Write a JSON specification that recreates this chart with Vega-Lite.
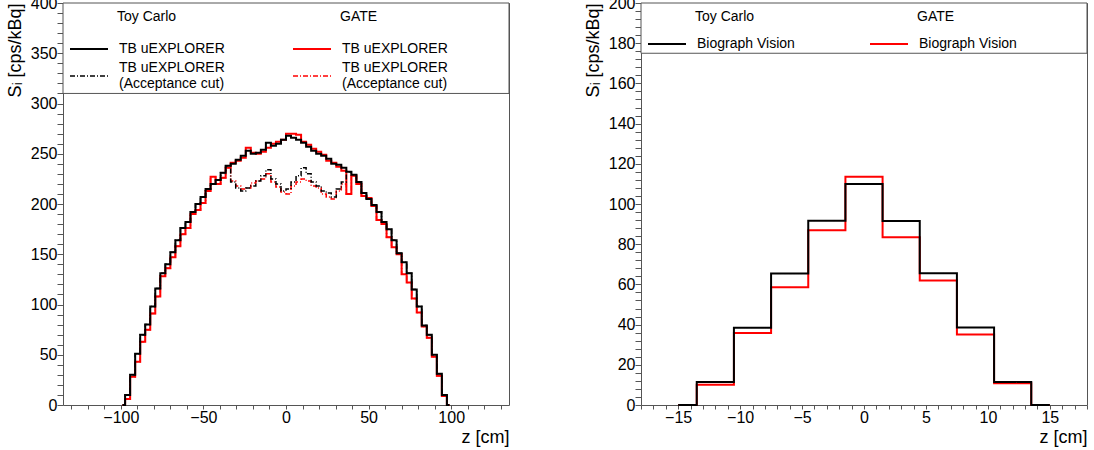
{
  "$schema": "https://vega.github.io/schema/vega-lite/v6.json",
  "padding": {"left": 5, "top": -6, "right": 0, "bottom": 0},
  "spacing": 73,
  "config": {
    "font": "Liberation Sans",
    "view": {"stroke": "#555555", "strokeWidth": 1},
    "axis": {
      "labelFont": "Liberation Sans", "labelFontSize": 16, "labelColor": "black",
      "titleFont": "Liberation Sans", "titleFontSize": 18, "titleFontWeight": "normal", "titleColor": "black",
      "domain": false, "grid": false, "tickColor": "#555555", "ticks": true,
      "labelOverlap": false, "labelFlush": false
    },
    "legend": {
      "orient": "none", "padding": 0,
      "titleFont": "Liberation Sans", "titleFontSize": 14, "titleFontWeight": "normal", "titleColor": "black",
      "labelFont": "Liberation Sans", "labelFontSize": 14, "labelColor": "black",
      "symbolType": "stroke", "symbolSize": 1444, "symbolStrokeWidth": 2, "labelOffset": 10
    }
  },
  "datasets": {
    "uexplorer": [
      {"z": -98.92, "toy": 0, "toy_cut": 0, "gate": 0, "gate_cut": 0},
      {"z": -95.88, "toy": 10, "toy_cut": 10, "gate": 6, "gate_cut": 6},
      {"z": -92.83, "toy": 30, "toy_cut": 30, "gate": 28, "gate_cut": 28},
      {"z": -89.79, "toy": 51, "toy_cut": 51, "gate": 43, "gate_cut": 43},
      {"z": -86.75, "toy": 70, "toy_cut": 70, "gate": 63, "gate_cut": 63},
      {"z": -83.70, "toy": 80, "toy_cut": 80, "gate": 75, "gate_cut": 75},
      {"z": -80.66, "toy": 98, "toy_cut": 98, "gate": 91, "gate_cut": 91},
      {"z": -77.62, "toy": 116, "toy_cut": 116, "gate": 108, "gate_cut": 108},
      {"z": -74.57, "toy": 131, "toy_cut": 131, "gate": 128, "gate_cut": 128},
      {"z": -71.53, "toy": 140, "toy_cut": 140, "gate": 136, "gate_cut": 136},
      {"z": -68.48, "toy": 152, "toy_cut": 152, "gate": 147, "gate_cut": 147},
      {"z": -65.44, "toy": 164, "toy_cut": 164, "gate": 158, "gate_cut": 158},
      {"z": -62.40, "toy": 176, "toy_cut": 176, "gate": 170, "gate_cut": 170},
      {"z": -59.35, "toy": 182, "toy_cut": 182, "gate": 176, "gate_cut": 176},
      {"z": -56.31, "toy": 192, "toy_cut": 192, "gate": 190, "gate_cut": 190},
      {"z": -53.27, "toy": 200, "toy_cut": 200, "gate": 194, "gate_cut": 194},
      {"z": -50.22, "toy": 207, "toy_cut": 207, "gate": 201, "gate_cut": 201},
      {"z": -47.18, "toy": 215, "toy_cut": 215, "gate": 213, "gate_cut": 213},
      {"z": -44.14, "toy": 220, "toy_cut": 220, "gate": 227, "gate_cut": 227},
      {"z": -41.09, "toy": 224, "toy_cut": 224, "gate": 220, "gate_cut": 220},
      {"z": -38.05, "toy": 231, "toy_cut": 231, "gate": 226, "gate_cut": 226},
      {"z": -35.01, "toy": 238, "toy_cut": 238, "gate": 236, "gate_cut": 236},
      {"z": -31.96, "toy": 240, "toy_cut": 222, "gate": 241, "gate_cut": 223},
      {"z": -28.92, "toy": 244, "toy_cut": 216, "gate": 243, "gate_cut": 218},
      {"z": -25.88, "toy": 248, "toy_cut": 213, "gate": 246, "gate_cut": 215},
      {"z": -22.83, "toy": 253, "toy_cut": 216, "gate": 256, "gate_cut": 216},
      {"z": -19.79, "toy": 250, "toy_cut": 218, "gate": 251, "gate_cut": 221},
      {"z": -16.74, "toy": 251, "toy_cut": 223, "gate": 250, "gate_cut": 223},
      {"z": -13.70, "toy": 254, "toy_cut": 228, "gate": 252, "gate_cut": 225},
      {"z": -10.66, "toy": 261, "toy_cut": 234, "gate": 256, "gate_cut": 230},
      {"z": -7.61, "toy": 258, "toy_cut": 225, "gate": 260, "gate_cut": 222},
      {"z": -4.57, "toy": 260, "toy_cut": 220, "gate": 262, "gate_cut": 217},
      {"z": -1.52, "toy": 264, "toy_cut": 213, "gate": 264, "gate_cut": 212},
      {"z": 1.52, "toy": 268, "toy_cut": 215, "gate": 270, "gate_cut": 210},
      {"z": 4.57, "toy": 266, "toy_cut": 222, "gate": 270, "gate_cut": 218},
      {"z": 7.61, "toy": 264, "toy_cut": 228, "gate": 269, "gate_cut": 222},
      {"z": 10.66, "toy": 261, "toy_cut": 236, "gate": 262, "gate_cut": 225},
      {"z": 13.70, "toy": 257, "toy_cut": 230, "gate": 259, "gate_cut": 223},
      {"z": 16.74, "toy": 253, "toy_cut": 222, "gate": 255, "gate_cut": 218},
      {"z": 19.79, "toy": 250, "toy_cut": 218, "gate": 252, "gate_cut": 216},
      {"z": 22.83, "toy": 248, "toy_cut": 213, "gate": 249, "gate_cut": 210},
      {"z": 25.88, "toy": 245, "toy_cut": 211, "gate": 243, "gate_cut": 207},
      {"z": 28.92, "toy": 240, "toy_cut": 207, "gate": 241, "gate_cut": 205},
      {"z": 31.96, "toy": 239, "toy_cut": 215, "gate": 237, "gate_cut": 213},
      {"z": 35.01, "toy": 236, "toy_cut": 222, "gate": 233, "gate_cut": 220},
      {"z": 38.05, "toy": 232, "toy_cut": 232, "gate": 210, "gate_cut": 210},
      {"z": 41.09, "toy": 229, "toy_cut": 229, "gate": 228, "gate_cut": 228},
      {"z": 44.14, "toy": 222, "toy_cut": 222, "gate": 220, "gate_cut": 220},
      {"z": 47.18, "toy": 211, "toy_cut": 211, "gate": 208, "gate_cut": 208},
      {"z": 50.22, "toy": 205, "toy_cut": 205, "gate": 206, "gate_cut": 206},
      {"z": 53.27, "toy": 199, "toy_cut": 199, "gate": 198, "gate_cut": 198},
      {"z": 56.31, "toy": 192, "toy_cut": 192, "gate": 184, "gate_cut": 184},
      {"z": 59.35, "toy": 182, "toy_cut": 182, "gate": 180, "gate_cut": 180},
      {"z": 62.40, "toy": 175, "toy_cut": 175, "gate": 167, "gate_cut": 167},
      {"z": 65.44, "toy": 164, "toy_cut": 164, "gate": 157, "gate_cut": 157},
      {"z": 68.48, "toy": 151, "toy_cut": 151, "gate": 150, "gate_cut": 150},
      {"z": 71.53, "toy": 142, "toy_cut": 142, "gate": 130, "gate_cut": 130},
      {"z": 74.57, "toy": 131, "toy_cut": 131, "gate": 122, "gate_cut": 122},
      {"z": 77.62, "toy": 115, "toy_cut": 115, "gate": 106, "gate_cut": 106},
      {"z": 80.66, "toy": 98, "toy_cut": 98, "gate": 92, "gate_cut": 92},
      {"z": 83.70, "toy": 79, "toy_cut": 79, "gate": 78, "gate_cut": 78},
      {"z": 86.75, "toy": 70, "toy_cut": 70, "gate": 67, "gate_cut": 67},
      {"z": 89.79, "toy": 50, "toy_cut": 50, "gate": 48, "gate_cut": 48},
      {"z": 92.83, "toy": 31, "toy_cut": 31, "gate": 29, "gate_cut": 29},
      {"z": 95.88, "toy": 10, "toy_cut": 10, "gate": 9, "gate_cut": 9},
      {"z": 98.92, "toy": 0, "toy_cut": 0, "gate": 0, "gate_cut": 0}
    ],
    "vision": [
      {"z": -15, "toy": 0, "gate": 0},
      {"z": -12, "toy": 11.4, "gate": 10.1},
      {"z": -9, "toy": 38.4, "gate": 35.8},
      {"z": -6, "toy": 65.4, "gate": 58.6},
      {"z": -3, "toy": 91.7, "gate": 86.9},
      {"z": 0, "toy": 109.9, "gate": 113.6},
      {"z": 3, "toy": 91.6, "gate": 83.4},
      {"z": 6, "toy": 65.6, "gate": 61.9},
      {"z": 9, "toy": 38.6, "gate": 35.1},
      {"z": 12, "toy": 11.4, "gate": 10.8},
      {"z": 15, "toy": 0, "gate": 0}
    ]
  },
  "hconcat": [
    {
      "width": 446,
      "height": 402,
      "layer": [
        {
          "encoding": {
            "x": {
              "field": "z", "type": "quantitative",
              "scale": {"domain": [-135, 135], "nice": false, "zero": false},
              "axis": {
                "values": [-130, -120, -110, -100, -90, -80, -70, -60, -50, -40, -30, -20, -10, 0, 10, 20, 30, 40, 50, 60, 70, 80, 90, 100, 110, 120, 130],
                "labelExpr": "datum.value % 50 === 0 ? datum.label : ''",
                "title": "z [cm]", "titleAnchor": "end", "titlePadding": 3, "labelPadding": 0,
                "tickSize": 4,
                "encode": {"ticks": {"update": {"y2": {"signal": "datum.value % 50 === 0 ? -12 : -6"}}}}
              }
            },
            "y": {
              "field": "rate", "type": "quantitative",
              "scale": {"domain": [0, 400], "nice": false},
              "axis": {
                "values": [0, 10, 20, 30, 40, 50, 60, 70, 80, 90, 100, 110, 120, 130, 140, 150, 160, 170, 180, 190, 200, 210, 220, 230, 240, 250, 260, 270, 280, 290, 300, 310, 320, 330, 340, 350, 360, 370, 380, 390, 400],
                "labelExpr": "datum.value % 50 === 0 ? datum.label : ''",
                "title": "Sᵢ [cps/kBq]", "titleAnchor": "end", "titlePadding": 6, "labelPadding": 0,
                "tickSize": 6,
                "encode": {"ticks": {"update": {"x2": {"signal": "datum.value % 50 === 0 ? 13 : 7"}}}}
              }
            }
          },
          "layer": [
            {
              "data": {"name": "uexplorer"},
              "transform": [{"fold": ["gate", "gate_cut"], "as": ["series", "rate"]}],
              "mark": {"type": "line", "interpolate": "step", "color": "#ff0000"},
              "encoding": {
                "strokeDash": {
                  "field": "series", "type": "nominal",
                  "scale": {"domain": ["gate", "gate_cut"], "range": [[1, 0], [5, 2, 1, 2]]},
                  "legend": {
                    "title": "GATE", "legendX": 229, "legendY": 7, "titlePadding": 5, "rowPadding": -3,
                    "symbolStrokeColor": "#ff0000",
                    "labelExpr": "datum.value === 'gate_cut' ? ['TB uEXPLORER', '(Acceptance cut)'] : 'TB uEXPLORER'",
                    "encode": {
                      "title": {"update": {"dx": {"value": 48}}},
                      "labels": {"update": {"dy": {"signal": "datum.value === 'gate_cut' ? -8 : 0"}}}
                    }
                  }
                },
                "strokeWidth": {
                  "field": "series", "type": "nominal",
                  "scale": {"domain": ["gate", "gate_cut"], "range": [2, 1.5]},
                  "legend": {
                    "title": "GATE", "legendX": 229, "legendY": 7, "titlePadding": 5, "rowPadding": -3,
                    "symbolStrokeColor": "#ff0000",
                    "labelExpr": "datum.value === 'gate_cut' ? ['TB uEXPLORER', '(Acceptance cut)'] : 'TB uEXPLORER'",
                    "encode": {
                      "title": {"update": {"dx": {"value": 48}}},
                      "labels": {"update": {"dy": {"signal": "datum.value === 'gate_cut' ? -8 : 0"}}}
                    }
                  }
                }
              }
            },
            {
              "data": {"name": "uexplorer"},
              "transform": [{"fold": ["toy", "toy_cut"], "as": ["series", "rate"]}],
              "mark": {"type": "line", "interpolate": "step", "color": "black"},
              "encoding": {
                "strokeDash": {
                  "field": "series", "type": "nominal",
                  "scale": {"domain": ["toy", "toy_cut"], "range": [[1, 0], [5, 2, 1, 2]]},
                  "legend": {
                    "title": "Toy Carlo", "legendX": 6, "legendY": 7, "titlePadding": 5, "rowPadding": -3,
                    "symbolStrokeColor": "black",
                    "labelExpr": "datum.value === 'toy_cut' ? ['TB uEXPLORER', '(Acceptance cut)'] : 'TB uEXPLORER'",
                    "encode": {
                      "title": {"update": {"dx": {"value": 48}}},
                      "labels": {"update": {"dy": {"signal": "datum.value === 'toy_cut' ? -8 : 0"}}}
                    }
                  }
                },
                "strokeWidth": {
                  "field": "series", "type": "nominal",
                  "scale": {"domain": ["toy", "toy_cut"], "range": [2, 1.5]},
                  "legend": {
                    "title": "Toy Carlo", "legendX": 6, "legendY": 7, "titlePadding": 5, "rowPadding": -3,
                    "symbolStrokeColor": "black",
                    "labelExpr": "datum.value === 'toy_cut' ? ['TB uEXPLORER', '(Acceptance cut)'] : 'TB uEXPLORER'",
                    "encode": {
                      "title": {"update": {"dx": {"value": 48}}},
                      "labels": {"update": {"dy": {"signal": "datum.value === 'toy_cut' ? -8 : 0"}}}
                    }
                  }
                }
              }
            }
          ],
          "resolve": {"scale": {"strokeDash": "independent", "strokeWidth": "independent"}}
        },
        {
          "data": {"values": [{}]},
          "mark": {"type": "rect", "fill": "white", "stroke": "#555555", "strokeWidth": 1},
          "encoding": {
            "y": {
              "datum": 310, "type": "quantitative",
              "scale": {"domain": [0, 400], "nice": false},
              "axis": {
                "values": [0, 10, 20, 30, 40, 50, 60, 70, 80, 90, 100, 110, 120, 130, 140, 150, 160, 170, 180, 190, 200, 210, 220, 230, 240, 250, 260, 270, 280, 290, 300, 310, 320, 330, 340, 350, 360, 370, 380, 390, 400],
                "labelExpr": "datum.value % 50 === 0 ? datum.label : ''",
                "title": "Sᵢ [cps/kBq]", "titleAnchor": "end", "titlePadding": 6, "labelPadding": 0,
                "tickSize": 6,
                "encode": {"ticks": {"update": {"x2": {"signal": "datum.value % 50 === 0 ? 13 : 7"}}}}
              }
            },
            "y2": {"datum": 400}
          }
        }
      ]
    },
    {
      "width": 446,
      "height": 402,
      "layer": [
        {
          "encoding": {
            "x": {
              "field": "z", "type": "quantitative",
              "scale": {"domain": [-18, 18], "nice": false, "zero": false},
              "axis": {
                "values": [-18, -17, -16, -15, -14, -13, -12, -11, -10, -9, -8, -7, -6, -5, -4, -3, -2, -1, 0, 1, 2, 3, 4, 5, 6, 7, 8, 9, 10, 11, 12, 13, 14, 15, 16, 17, 18],
                "labelExpr": "datum.value % 5 === 0 ? datum.label : ''",
                "title": "z [cm]", "titleAnchor": "end", "titlePadding": 3, "labelPadding": 0,
                "tickSize": 4,
                "encode": {"ticks": {"update": {"y2": {"signal": "datum.value % 5 === 0 ? -12 : -6"}}}}
              }
            },
            "y": {
              "field": "rate", "type": "quantitative",
              "scale": {"domain": [0, 200], "nice": false},
              "axis": {
                "values": [0, 4, 8, 12, 16, 20, 24, 28, 32, 36, 40, 44, 48, 52, 56, 60, 64, 68, 72, 76, 80, 84, 88, 92, 96, 100, 104, 108, 112, 116, 120, 124, 128, 132, 136, 140, 144, 148, 152, 156, 160, 164, 168, 172, 176, 180, 184, 188, 192, 196, 200],
                "labelExpr": "datum.value % 20 === 0 ? datum.label : ''",
                "title": "Sᵢ [cps/kBq]", "titleAnchor": "end", "titlePadding": 6, "labelPadding": 0,
                "tickSize": 6,
                "encode": {"ticks": {"update": {"x2": {"signal": "datum.value % 20 === 0 ? 13 : 7"}}}}
              }
            }
          },
          "layer": [
            {
              "data": {"name": "vision"},
              "transform": [{"fold": ["gate"], "as": ["series", "rate"]}],
              "mark": {"type": "line", "interpolate": "step", "color": "#ff0000", "strokeWidth": 2},
              "encoding": {
                "strokeDash": {
                  "field": "series", "type": "nominal",
                  "scale": {"domain": ["gate"], "range": [[1, 0]]},
                  "legend": {
                    "title": "GATE", "legendX": 228, "legendY": 7, "titlePadding": 0,
                    "symbolStrokeColor": "#ff0000",
                    "labelExpr": "'Biograph Vision'",
                    "encode": {"title": {"update": {"dx": {"value": 48}}}}
                  }
                }
              }
            },
            {
              "data": {"name": "vision"},
              "transform": [{"fold": ["toy"], "as": ["series", "rate"]}],
              "mark": {"type": "line", "interpolate": "step", "color": "black", "strokeWidth": 2},
              "encoding": {
                "strokeDash": {
                  "field": "series", "type": "nominal",
                  "scale": {"domain": ["toy"], "range": [[1, 0]]},
                  "legend": {
                    "title": "Toy Carlo", "legendX": 6, "legendY": 7, "titlePadding": 0,
                    "symbolStrokeColor": "black",
                    "labelExpr": "'Biograph Vision'",
                    "encode": {"title": {"update": {"dx": {"value": 48}}}}
                  }
                }
              }
            }
          ],
          "resolve": {"scale": {"strokeDash": "independent"}}
        },
        {
          "data": {"values": [{}]},
          "mark": {"type": "rect", "fill": "white", "stroke": "#555555", "strokeWidth": 1},
          "encoding": {
            "y": {
              "datum": 175, "type": "quantitative",
              "scale": {"domain": [0, 200], "nice": false},
              "axis": {
                "values": [0, 4, 8, 12, 16, 20, 24, 28, 32, 36, 40, 44, 48, 52, 56, 60, 64, 68, 72, 76, 80, 84, 88, 92, 96, 100, 104, 108, 112, 116, 120, 124, 128, 132, 136, 140, 144, 148, 152, 156, 160, 164, 168, 172, 176, 180, 184, 188, 192, 196, 200],
                "labelExpr": "datum.value % 20 === 0 ? datum.label : ''",
                "title": "Sᵢ [cps/kBq]", "titleAnchor": "end", "titlePadding": 6, "labelPadding": 0,
                "tickSize": 6,
                "encode": {"ticks": {"update": {"x2": {"signal": "datum.value % 20 === 0 ? 13 : 7"}}}}
              }
            },
            "y2": {"datum": 200}
          }
        }
      ]
    }
  ]
}
